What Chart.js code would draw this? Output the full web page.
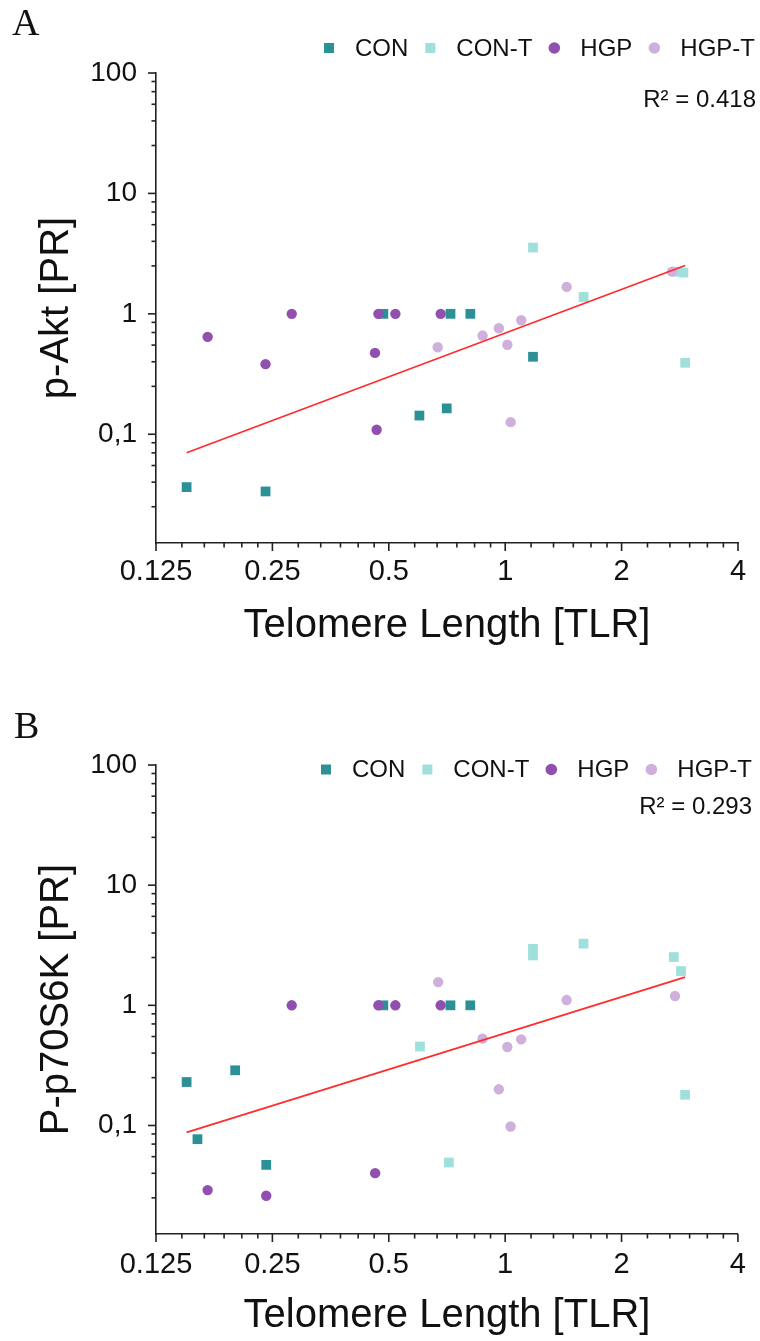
<!DOCTYPE html>
<html>
<head>
<meta charset="utf-8">
<script src="https://cdn.jsdelivr.net/npm/chart.js@4.4.1/dist/chart.umd.min.js"></script>
<style>
html,body{margin:0;padding:0;background:#fff;overflow:hidden;}
#wrap{position:relative;width:760px;height:1341px;background:#fff;}
canvas{position:absolute;left:0;}
#cA{top:0;}
#cB{top:680px;}
</style>
</head>
<body>
<div id="wrap">
<canvas id="cA" width="760" height="680"></canvas>
<canvas id="cB" width="760" height="661"></canvas>
</div>
<script>
// ---------- data ----------
const groupNames = ['CON', 'CON-T', 'HGP', 'HGP-T'];
const xTickValues = [0.125, 0.25, 0.5, 1, 2, 4];
const xTickLabels = ['0.125', '0.25', '0.5', '1', '2', '4'];
const yTickValues = [0.1, 1, 10, 100];
const yTickLabels = ['0,1', '1', '10', '100'];
const xTitle = 'Telomere Length [TLR]';
const yTitles = ['p-Akt [PR]', 'P-p70S6K [PR]'];
const panelLetters = ['A', 'B'];
const rSquared = ['0.418', '0.293'];

// Panel A (p-Akt)
const aConX  = [0.150, 0.240, 0.484, 0.600, 0.706, 0.722, 0.8125, 1.18];
const aConY  = [0.0364, 0.0335, 1.0, 0.143, 0.164, 1.0, 1.0, 0.440];
const aConTX = [1.18, 1.595, 2.79, 2.89, 2.92];
const aConTY = [3.55, 1.38, 2.24, 2.20, 0.392];
const aHgpX  = [0.170, 0.240, 0.2805, 0.4605, 0.465, 0.470, 0.520, 0.681];
const aHgpY  = [0.644, 0.382, 1.0, 0.474, 0.109, 1.0, 1.0, 1.0];
const aHgpTX = [0.669, 0.874, 0.963, 1.013, 1.033, 1.10, 1.442, 2.70];
const aHgpTY = [0.528, 0.660, 0.759, 0.553, 0.126, 0.885, 1.675, 2.24];
const aFitX  = [0.150, 2.92];
const aFitY  = [0.0702, 2.52];

// Panel B (P-p70S6K)
const bConX  = [0.150, 0.160, 0.2003, 0.241, 0.484, 0.722, 0.8125];
const bConY  = [0.230, 0.0769, 0.288, 0.047, 1.0, 1.0, 1.0];
const bConTX = [0.602, 0.715, 1.18, 1.18, 1.595, 2.73, 2.85, 2.92];
const bConTY = [0.454, 0.0492, 2.95, 2.60, 3.26, 2.52, 1.93, 0.180];
const bHgpX  = [0.170, 0.241, 0.2805, 0.461, 0.470, 0.520, 0.681];
const bHgpY  = [0.029, 0.026, 1.0, 0.0401, 1.0, 1.0, 1.0];
const bHgpTX = [0.671, 0.874, 0.963, 1.013, 1.033, 1.10, 1.442, 2.75];
const bHgpTY = [1.56, 0.528, 0.200, 0.450, 0.098, 0.521, 1.106, 1.194];
const bFitX  = [0.150, 2.92];
const bFitY  = [0.0875, 1.72];

// ---------- styles ----------
const FONT = '"Liberation Sans", Arial, Helvetica, sans-serif';
Chart.defaults.font.family = FONT;
Chart.defaults.color = '#111';
const groupColors = ['#2b9197', '#9fe0dd', '#9150b0', '#cfb0dc'];
const groupShapes = ['rect', 'rect', 'circle', 'circle'];
const X_MIN = 0.125, X_MAX = 4, Y_MIN = 0.0125, Y_MAX = 100;

function pts(xs, ys) { return xs.map((x, i) => ({ x: x, y: ys[i] })); }

// Origin-style minor ticks: 5 linear subdivisions per octave / decade
function xAllTicks() {
  const t = [];
  xTickValues.forEach((a, i) => {
    t.push(a);
    if (i < xTickValues.length - 1) for (let k = 1; k <= 5; k++) t.push(a * (1 + k / 6));
  });
  return t;
}
function yAllTicks() {
  const t = [];
  [0.01, 0.1, 1, 10].forEach(a => {
    for (let k = 1; k <= 5; k++) { const v = a * (1 + 1.5 * k); if (v >= Y_MIN && v <= Y_MAX) t.push(v); }
  });
  yTickValues.forEach(v => t.push(v));
  return t.sort((p, q) => p - q);
}

const decorPlugin = {
  id: 'decor',
  afterDraw(chart, args, o) {
    const ctx = chart.ctx, ca = chart.chartArea;
    const xs = chart.scales.x, ys = chart.scales.y;
    ctx.save();
    ctx.strokeStyle = '#222';
    ctx.lineWidth = 1.6;
    xs.ticks.forEach(t => {
      const px = xs.getPixelForValue(t.value);
      const len = xTickValues.includes(t.value) ? 8 : 4.5;
      ctx.beginPath(); ctx.moveTo(px, ca.bottom); ctx.lineTo(px, ca.bottom + len); ctx.stroke();
    });
    ys.ticks.forEach(t => {
      const py = ys.getPixelForValue(t.value);
      const len = yTickValues.includes(t.value) ? 8 : 4.5;
      ctx.beginPath(); ctx.moveTo(ca.left, py); ctx.lineTo(ca.left - len, py); ctx.stroke();
    });
    // panel letter
    ctx.fillStyle = '#111';
    ctx.font = '38px "Liberation Serif", "Times New Roman", serif';
    ctx.textAlign = 'left';
    ctx.textBaseline = 'alphabetic';
    ctx.fillText(o.letter, o.letterX, o.letterY);
    // legend
    ctx.font = '24px ' + FONT;
    const items = chart.data.datasets.filter(d => d.inLegend);
    const gapMT = 26, gapIt = 22;
    let total = 0;
    items.forEach((d, i) => { total += gapMT + ctx.measureText(d.label).width + (i < items.length - 1 ? gapIt : 0); });
    let x = o.legendRight - total;
    ctx.textBaseline = 'middle';
    items.forEach(d => {
      ctx.fillStyle = d.backgroundColor;
      if (d.pointStyle === 'rect') {
        ctx.fillRect(x - 5, o.legendY - 5, 10, 10);
      } else {
        ctx.beginPath(); ctx.arc(x, o.legendY, 5.8, 0, Math.PI * 2); ctx.fill();
      }
      ctx.fillStyle = '#111';
      ctx.fillText(d.label, x + gapMT, o.legendY + 1);
      x += gapMT + ctx.measureText(d.label).width + gapIt;
    });
    // R squared
    ctx.textAlign = 'right';
    ctx.textBaseline = 'alphabetic';
    ctx.fillText('R\u00B2 = ' + o.r2, o.r2Right, o.r2Y);
    ctx.restore();
  }
};

function makeChart(canvasId, groups, fitX, fitY, idx, L) {
  const datasets = groups.map((g, i) => ({
    label: groupNames[i],
    data: pts(g[0], g[1]),
    backgroundColor: groupColors[i],
    borderColor: groupColors[i],
    borderWidth: 0,
    pointStyle: groupShapes[i],
    pointRadius: groupShapes[i] === 'rect' ? 6.9 : 5.2,
    pointHoverRadius: groupShapes[i] === 'rect' ? 6.9 : 5.2,
    showLine: false,
    inLegend: true,
    order: 4 - i
  }));
  datasets.push({
    label: 'fit',
    data: pts(fitX, fitY),
    showLine: true,
    borderColor: '#ff2d2d',
    backgroundColor: '#ff2d2d',
    borderWidth: 1.8,
    pointRadius: 0,
    fill: false,
    inLegend: false,
    order: 0
  });
  return new Chart(document.getElementById(canvasId), {
    type: 'scatter',
    data: { datasets: datasets },
    options: {
      responsive: false,
      animation: false,
      events: [],
      layout: { padding: { top: L.padTop, right: 22, left: 0, bottom: 0 } },
      plugins: {
        legend: { display: false },
        tooltip: { enabled: false },
        decor: L.decor
      },
      scales: {
        x: {
          type: 'logarithmic', position: 'bottom', min: X_MIN, max: X_MAX, bounds: 'data',
          afterBuildTicks: s => { s.ticks = xAllTicks().map(v => ({ value: v })); },
          afterFit: s => { s.height = L.xAxisH; },
          grid: { display: false, drawTicks: false },
          border: { display: true, color: '#222', width: 1.6 },
          ticks: {
            autoSkip: false, maxRotation: 0, minRotation: 0, padding: L.xTickPad,
            font: { size: 29 }, color: '#111',
            callback: v => { const i = xTickValues.indexOf(v); return i >= 0 ? xTickLabels[i] : ''; }
          },
          title: { display: true, text: xTitle, color: '#111',
                   font: { size: 40, lineHeight: 1.15 }, padding: { top: 0, bottom: L.xTitlePad } }
        },
        y: {
          type: 'logarithmic', position: 'left', min: Y_MIN, max: Y_MAX, bounds: 'data',
          afterBuildTicks: s => { s.ticks = yAllTicks().map(v => ({ value: v })); },
          afterFit: s => { s.width = 156; },
          grid: { display: false, drawTicks: false },
          border: { display: true, color: '#222', width: 1.6 },
          ticks: {
            autoSkip: false, padding: 19, font: { size: 28 }, color: '#111',
            callback: v => { const i = yTickValues.indexOf(v); return i >= 0 ? yTickLabels[i] : ''; }
          },
          title: { display: true, text: yTitles[idx], color: '#111',
                   font: { size: 40, lineHeight: 1.15 }, padding: { top: 34, bottom: 0 } }
        }
      }
    },
    plugins: [decorPlugin]
  });
}

makeChart('cA',
  [[aConX, aConY], [aConTX, aConTY], [aHgpX, aHgpY], [aHgpTX, aHgpTY]],
  aFitX, aFitY, 0,
  { padTop: 73, xAxisH: 137, xTickPad: 12, xTitlePad: 31,
    decor: { letter: panelLetters[0], letterX: 12, letterY: 35, legendRight: 755, legendY: 48,
             r2: rSquared[0], r2Right: 756, r2Y: 107 } });

makeChart('cB',
  [[bConX, bConY], [bConTX, bConTY], [bHgpX, bHgpY], [bHgpTX, bHgpTY]],
  bFitX, bFitY, 1,
  { padTop: 85, xAxisH: 107, xTickPad: 14, xTitlePad: 2,
    decor: { letter: panelLetters[1], letterX: 14, letterY: 57.5, legendRight: 752, legendY: 89.5,
             r2: rSquared[1], r2Right: 752, r2Y: 134 } });
</script>
</body>
</html>
